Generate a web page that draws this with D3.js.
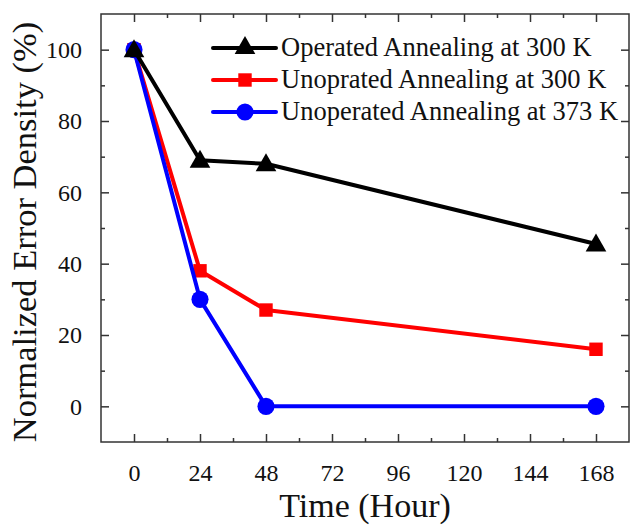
<!DOCTYPE html>
<html>
<head>
<meta charset="utf-8">
<script src="https://cdn.jsdelivr.net/npm/d3@7/dist/d3.min.js"></script>
<style>
  html, body { margin: 0; padding: 0; background: #fff; }
  svg { display: block; font-family: "Liberation Serif", "Times New Roman", serif; }
</style>
</head>
<body>
<svg id="chart" width="631" height="525"></svg>
<script>
// Annealing time (hours) at which each error density was measured
const hours = [0, 24, 48, 168];

// Normalized error density (%) per condition
const operated300 = [100, 69, 68, 45.5];
const unoperated300 = [100, 38, 27, 16];
const unoperated373 = [100, 30, 0, 0];

const seriesNames = [
  "Operated Annealing at 300 K",
  "Unoprated Annealing at 300 K",
  "Unoperated Annealing at 373 K"
];
const seriesColors = ["#000000", "#ff0000", "#0000ff"];
const seriesShapes = ["triangle", "square", "circle"];

const xTicks = [0, 24, 48, 72, 96, 120, 144, 168];
const xMinorTicks = [12, 36, 60, 84, 108, 132, 156];
const yTicks = [0, 20, 40, 60, 80, 100];
const yMinorTicks = [10, 30, 50, 70, 90];

const svg = d3.select("#chart");
const margin = { left: 101, right: 2, top: 14, bottom: 83 };
const W = 631, H = 525;
const plotW = W - margin.left - margin.right;
const plotH = H - margin.top - margin.bottom;

const x = d3.scaleLinear().domain([-12, 180]).range([margin.left, margin.left + plotW]);
const y = d3.scaleLinear().domain([-10, 110]).range([margin.top + plotH, margin.top]);

const axisColor = "#333";
const majorLen = 8, minorLen = 4;

// Inward ticks on all four sides
function styleAxis(g) {
  g.select(".domain").remove();
  g.selectAll(".tick line").attr("stroke", axisColor).attr("stroke-width", 1.5);
  g.selectAll(".tick text").attr("fill", "#111").attr("font-size", 24)
    .attr("font-family", "Liberation Serif, Times New Roman, serif");
}

function addAxis(axisFn, transform, ticks, len, labelled, pad) {
  const a = axisFn.tickValues(ticks).tickSizeInner(-len).tickSizeOuter(0);
  if (!labelled) a.tickFormat("");
  if (pad) a.tickPadding(pad);
  svg.append("g").attr("transform", transform).call(a).call(styleAxis);
}

const yb = y.range()[0], yt = y.range()[1], xl = x.range()[0], xr = x.range()[1];
// bottom
addAxis(d3.axisBottom(x), `translate(0,${yb})`, xTicks, majorLen, true, 22);
addAxis(d3.axisBottom(x), `translate(0,${yb})`, xMinorTicks, minorLen, false);
// top
addAxis(d3.axisTop(x), `translate(0,${yt})`, xTicks, majorLen, false);
addAxis(d3.axisTop(x), `translate(0,${yt})`, xMinorTicks, minorLen, false);
// left
addAxis(d3.axisLeft(y), `translate(${xl},0)`, yTicks, majorLen, true, 19);
addAxis(d3.axisLeft(y), `translate(${xl},0)`, yMinorTicks, minorLen, false);
// right
addAxis(d3.axisRight(y), `translate(${xr},0)`, yTicks, majorLen, false);
addAxis(d3.axisRight(y), `translate(${xr},0)`, yMinorTicks, minorLen, false);

// frame
svg.append("rect")
  .attr("x", margin.left).attr("y", margin.top)
  .attr("width", plotW).attr("height", plotH)
  .attr("fill", "none").attr("stroke", axisColor).attr("stroke-width", 1.5);

// axis titles
svg.append("text")
  .attr("x", x(84)).attr("y", 517)
  .attr("text-anchor", "middle").attr("font-size", 34).attr("fill", "#111")
  .text("Time (Hour)");
svg.append("text")
  .attr("transform", `translate(36,${(yb + yt) / 2 + 4}) rotate(-90)`)
  .attr("text-anchor", "middle").attr("font-size", 34.5).attr("fill", "#111")
  .text("Normalized Error Density (%)");

const symbolFor = {
  triangle: d3.symbol().type(d3.symbolTriangle).size(185),
  square: d3.symbol().type(d3.symbolSquare).size(180),
  circle: d3.symbol().type(d3.symbolCircle).size(230)
};

const allSeries = [operated300, unoperated300, unoperated373];
const line = d3.line().x((d, i) => x(hours[i])).y(d => y(d));

// lines and markers, drawn so that the black series ends up on top
[1, 2, 0].forEach(si => {
  const vals = allSeries[si];
  const g = svg.append("g");
  g.append("path").datum(vals)
    .attr("d", line)
    .attr("fill", "none").attr("stroke", seriesColors[si])
    .attr("stroke-width", 4).attr("stroke-linejoin", "round");
  g.selectAll("path.mk").data(vals).join("path")
    .attr("class", "mk")
    .attr("d", symbolFor[seriesShapes[si]])
    .attr("transform", (d, i) => `translate(${x(hours[i])},${y(d) + (seriesShapes[si] === "triangle" ? 1.5 : 0)})`)
    .attr("fill", seriesColors[si]);
});

// legend
const legend = svg.append("g");
seriesNames.forEach((name, i) => {
  const cy = 48 + i * 32;
  legend.append("line")
    .attr("x1", 213).attr("x2", 276).attr("y1", cy).attr("y2", cy)
    .attr("stroke", seriesColors[i]).attr("stroke-width", 4).attr("stroke-linecap", "round");
  legend.append("path")
    .attr("d", symbolFor[seriesShapes[i]])
    .attr("transform", `translate(245,${cy})`)
    .attr("fill", seriesColors[i]);
  legend.append("text")
    .attr("x", 281).attr("y", cy + 8)
    .attr("font-size", 26.5).attr("fill", "#111")
    .text(name);
});
</script>
</body>
</html>
